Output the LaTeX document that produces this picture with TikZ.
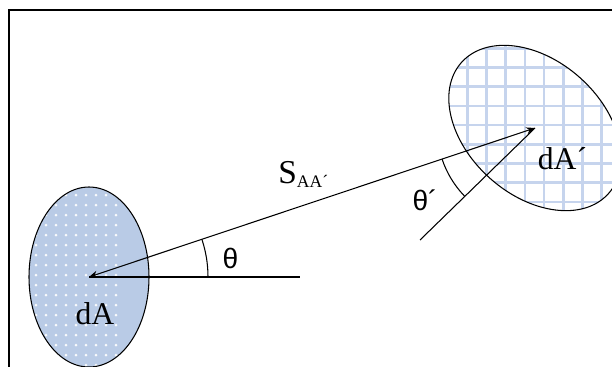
\documentclass[tikz,border=0pt]{standalone}
\usepackage{fontspec}
\setmainfont{Liberation Serif}
\setsansfont{Liberation Sans}
\usetikzlibrary{arrows.meta,calc}

\definecolor{patchblue}{RGB}{185,203,230}
\definecolor{gridblue}{RGB}{198,212,237}

\begin{document}
\begin{tikzpicture}[
    patch/.style={draw, line width=0.6pt},
    ray/.style={line width=0.6pt},
    arr/.style={{Stealth[length=5pt,width=4pt]}-{Stealth[length=5pt,width=4pt]}, line width=0.6pt},
    lbl/.style={inner sep=0pt, anchor=base, font=\fontsize{18}{20}\selectfont},
    anglbl/.style={inner sep=0pt, anchor=base, font=\sffamily\fontsize{16}{18}\selectfont},
    gridln/.style={gridblue, line width=1.4pt}
]
\useasboundingbox (0,0) rectangle (12.24,7.32);
\draw[line width=1.1pt] (0.18,-0.1) |- (12.4,7.12);

\coordinate (A) at (1.78,1.78);
\coordinate (Ap) at (10.70,4.76);
\coordinate (hor) at (6.0,1.78);
\coordinate (nrm) at (8.40,2.52);

% patch dA, dotted
\fill[patchblue] (A) ellipse[x radius=1.2, y radius=1.8];
\begin{scope}
  \clip (A) ellipse[x radius=1.2, y radius=1.8];
  \foreach \i in {-4,...,7}
    \foreach \j in {-14,...,4}
      \fill[white!90!patchblue] (0.92+0.2*\i, 2.82+0.2*\j) circle (0.03);
\end{scope}
\draw[patch] (A) ellipse[x radius=1.2, y radius=1.8];

% patch dA', tilted, gridded
\begin{scope}
  \clip[rotate around={-41.7:(Ap)}] (Ap) ellipse[x radius=1.97, y radius=1.35];
  \foreach \k in {-2,...,8}
    \draw[gridln] (9.346+0.384*\k, 2.8) -- ++(0,4);
  \foreach \k in {-1,...,9}
    \draw[gridln] (8.8, 6.354-0.384*\k) -- ++(4,0);
\end{scope}
\draw[patch, rotate around={-41.7:(Ap)}] (Ap) ellipse[x radius=1.97, y radius=1.35];

\draw[arr] (A) -- (Ap);
\draw[ray] (A) -- (hor);
\draw[ray] (nrm) -- (Ap);
\draw[ray] ($(A)+(0:2.38)$) arc[start angle=0, end angle=18.5, radius=2.38];
\draw[ray] ($(Ap)+(198.5:1.96)$) arc[start angle=198.5, end angle=224, radius=1.96];

\node[lbl] (lA) at (1.90,0.84) {dA};
\node[lbl] (lAp) at (11.25,3.94) {dA´};
\node[lbl, anchor=base west, font=\fontsize{19}{21}\selectfont] (lS) at (5.56,3.66) {S\raisebox{-2.8pt}{\fontsize{10}{12}\selectfont AA´}};
\node[anglbl] (lth) at (4.61,1.96) {θ};
\node[anglbl] (lthp) at (8.50,3.12) {θ´};
\end{tikzpicture}
\end{document}
